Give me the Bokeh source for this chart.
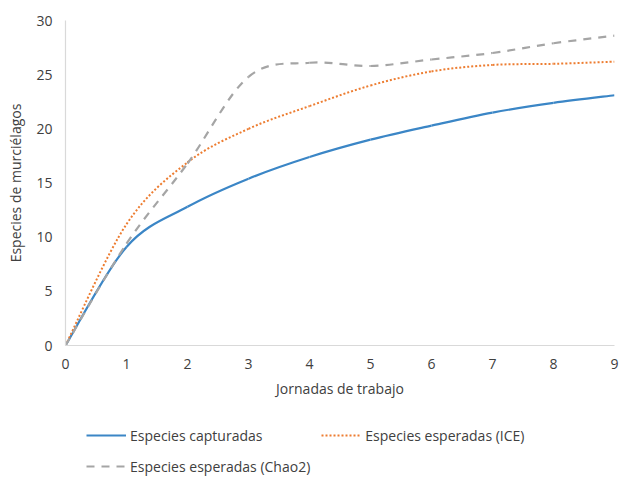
import numpy as np
from bokeh.plotting import figure
from bokeh.layouts import column
from bokeh.models import Range1d, FixedTicker, Legend, LegendItem, ColumnDataSource
from bokeh.embed import file_html
from bokeh.resources import INLINE

# ---- data ----
jornadas = [0, 1, 2, 3, 4, 5, 6, 7, 8, 9]
capturadas = [0, 9.1, 12.8, 15.4, 17.4, 19.0, 20.3, 21.5, 22.4, 23.1]
ice = [0, 11.2, 16.9, 20.0, 22.1, 24.0, 25.3, 25.9, 26.0, 26.2]
chao2 = [0, 9.4, 16.8, 24.8, 26.1, 25.8, 26.4, 27.0, 27.9, 28.6]
x_ticks = [0, 1, 2, 3, 4, 5, 6, 7, 8, 9]
y_ticks = [0, 5, 10, 15, 20, 25, 30]
series_names = ["Especies capturadas", "Especies esperadas (ICE)", "Especies esperadas (Chao2)"]

FONT = "Open Sans"
TXT = "#404040"

p = figure(width=624, height=400, output_backend="svg", toolbar_location=None,
           x_range=Range1d(0, 9), y_range=Range1d(0, 30),
           min_border_left=65, min_border_right=10, min_border_top=20, min_border_bottom=55)
p.outline_line_color = None
p.xgrid.grid_line_color = None
p.ygrid.grid_line_color = None
p.background_fill_color = "white"
p.border_fill_color = "white"

for ax in (p.xaxis[0], p.yaxis[0]):
    ax.axis_line_color = "#D9D9D9"
    ax.axis_line_width = 1.2
    ax.major_tick_line_color = None
    ax.minor_tick_line_color = None
    ax.major_tick_out = 0
    ax.major_tick_in = 0
    ax.minor_tick_out = 0
    ax.minor_tick_in = 0
    ax.major_label_text_font = FONT
    ax.major_label_text_font_size = "14px"
    ax.major_label_text_color = TXT
    ax.axis_label_text_font = FONT
    ax.axis_label_text_font_size = "14px"
    ax.axis_label_text_font_style = "normal"
    ax.axis_label_text_color = TXT

p.xaxis[0].ticker = FixedTicker(ticks=x_ticks)
p.yaxis[0].ticker = FixedTicker(ticks=y_ticks)
p.xaxis[0].axis_label = "Jornadas de trabajo"
p.yaxis[0].axis_label = "Especies de murciélagos"
p.xaxis[0].major_label_standoff = 13
p.yaxis[0].major_label_standoff = 13
p.xaxis[0].axis_label_standoff = 7
p.yaxis[0].axis_label_standoff = 8


def smooth_source(xs, ys):
    xs = np.asarray(xs, float)
    ys = np.asarray(ys, float)
    n = len(xs)
    px = np.concatenate([[xs[0]], xs, [xs[-1]]])
    py = np.concatenate([[ys[0]], ys, [ys[-1]]])
    x0 = xs[:-1]; y0 = ys[:-1]; x1 = xs[1:]; y1 = ys[1:]
    cx0 = x0 + (px[2:n + 1] - px[0:n - 1]) / 6.0
    cy0 = y0 + (py[2:n + 1] - py[0:n - 1]) / 6.0
    cx1 = x1 - (px[3:n + 2] - px[1:n]) / 6.0
    cy1 = y1 - (py[3:n + 2] - py[1:n]) / 6.0
    return ColumnDataSource(dict(x0=x0, y0=y0, x1=x1, y1=y1, cx0=cx0, cy0=cy0, cx1=cx1, cy1=cy1))


styles = [
    dict(line_color="#3B86C6", line_width=2.2, line_dash="solid"),
    dict(line_color="#ED7D31", line_width=2.0, line_dash="2 2"),
    dict(line_color="#A5A5A5", line_width=2.2, line_dash="8 7"),
]

# legend strip (second figure under the chart); its ranges keep the data out of view
pl = figure(width=624, height=77, output_backend="svg", toolbar_location=None,
            x_range=Range1d(-3, -2), y_range=Range1d(-3, -2),
            min_border_left=0, min_border_right=0, min_border_top=0, min_border_bottom=0)
pl.xaxis.visible = False
pl.yaxis.visible = False
pl.xgrid.grid_line_color = None
pl.ygrid.grid_line_color = None
pl.outline_line_color = None
pl.background_fill_color = "white"
pl.border_fill_color = "white"

items = []
for ys, st, name in zip([capturadas, ice, chao2], styles, series_names):
    src = smooth_source(jornadas, ys)
    p.bezier(x0="x0", y0="y0", x1="x1", y1="y1", cx0="cx0", cy0="cy0", cx1="cx1", cy1="cy1",
             source=src, **st)
    r = pl.line(x=jornadas, y=ys, **st)
    items.append(LegendItem(label=name, renderers=[r]))

legend = Legend(items=items, location=(21, 1), orientation="horizontal", ncols=2,
                glyph_width=40, glyph_height=20, label_height=20, label_standoff=4,
                spacing=11, padding=0, margin=0,
                label_text_font=FONT, label_text_font_size="14px", label_text_color=TXT,
                border_line_color=None, background_fill_alpha=0)
pl.add_layout(legend, "center")

layout = column(p, pl, spacing=0)
open("out.html", "w").write(file_html(layout, INLINE))
